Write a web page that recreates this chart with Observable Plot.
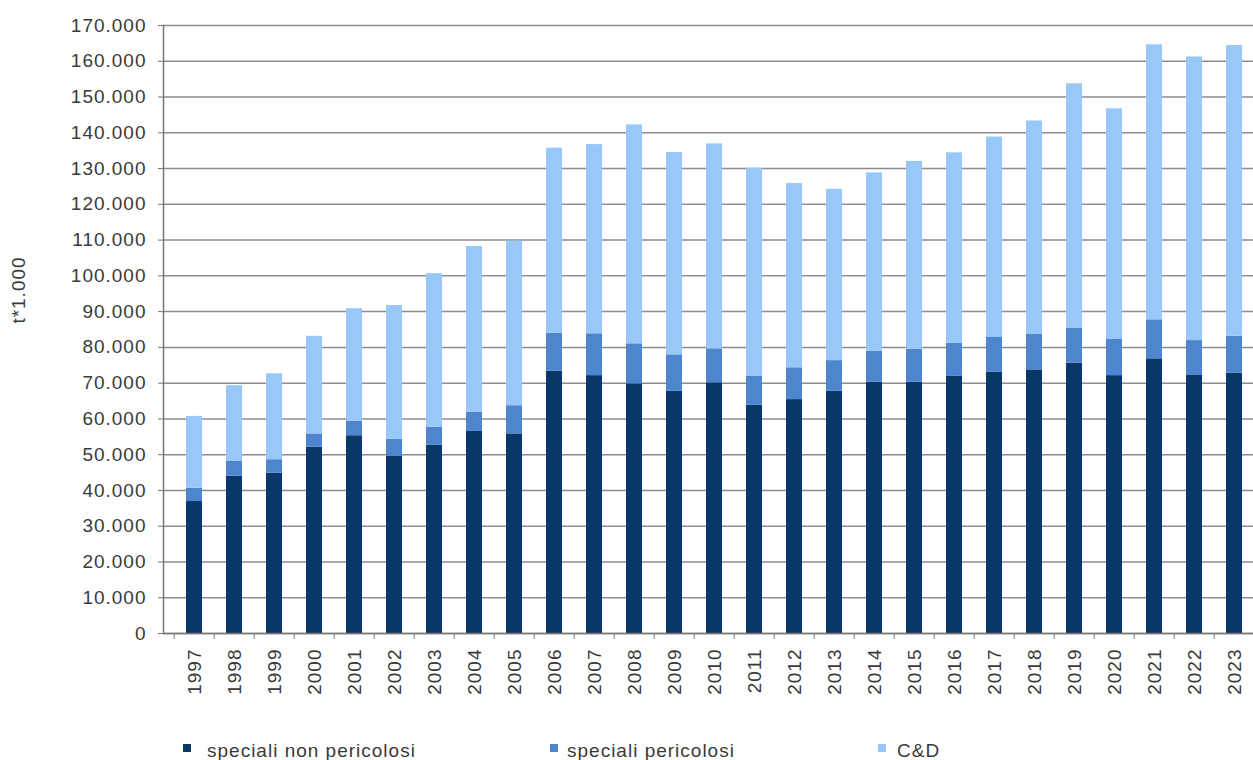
<!DOCTYPE html>
<html>
<head>
<meta charset="utf-8">
<script src="https://cdn.jsdelivr.net/npm/d3@7"></script>
<script src="https://cdn.jsdelivr.net/npm/@observablehq/plot@0.6"></script>
<style>
  html, body { margin: 0; padding: 0; background: #fff; overflow: hidden; }
  #wrap { position: relative; width: 1253px; height: 760px; font-family: "Liberation Sans", Arial, sans-serif; color: #3a3a3a; }
  #chart svg text { letter-spacing: 1px; }
  .ytitle { position: absolute; left: 18px; top: 290px; transform: translate(-50%, -50%) rotate(-90deg); font-size: 19px; letter-spacing: 1px; white-space: nowrap; line-height: 1; }
  .sw { position: absolute; width: 8px; height: 8px; top: 744px; }
  .lt { position: absolute; top: 741px; font-size: 19px; line-height: 1; letter-spacing: 1px; white-space: nowrap; }
</style>
</head>
<body>
<div id="wrap">
  <div id="chart"></div>
  <div class="ytitle">t*1.000</div>
  <div id="legend"></div>
</div>
<script>
const years = ["1997","1998","1999","2000","2001","2002","2003","2004","2005","2006","2007","2008","2009","2010","2011","2012","2013","2014","2015","2016","2017","2018","2019","2020","2021","2022","2023"];
const seriesNames = ["speciali non pericolosi", "speciali pericolosi", "C&D"];
const specialiNonPericolosi = [36900,44000,44800,52100,55300,49500,52600,56500,55800,73300,72100,69800,67700,70100,63800,65400,67800,70300,70300,72000,73100,73700,75600,72100,76800,72300,72800];
const specialiPericolosi = [3700,4100,3800,3700,4000,4800,5100,5400,7900,10700,11700,11200,10200,9500,8200,8900,8500,8600,9100,9200,9800,9900,9800,10100,10900,9600,10300];
const cd = [20100,21200,24000,27300,31500,37400,42900,46300,46000,51700,52900,61200,56600,57300,58100,51500,47900,49900,52600,53200,55900,59700,68300,64500,76900,79300,81300];
const yTicks = [0,10000,20000,30000,40000,50000,60000,70000,80000,90000,100000,110000,120000,130000,140000,150000,160000,170000];
const colors = ["#0b3768", "#4d86cf", "#97c8f8"];

const data = [];
years.forEach((y, i) => {
  data.push({year: y, series: seriesNames[0], value: specialiNonPericolosi[i]});
  data.push({year: y, series: seriesNames[1], value: specialiPericolosi[i]});
  data.push({year: y, series: seriesNames[2], value: cd[i]});
});

const fmt = d => d3.format(",")(d).replace(/,/g, ".");
const xRange = [165, 1263];
const step = (xRange[1] - xRange[0]) / years.length;

const chart = Plot.plot({
  width: 1253,
  height: 700,
  marginTop: 25,
  marginBottom: 67,
  marginLeft: 163,
  marginRight: 0,
  style: {fontFamily: "Liberation Sans, Arial, sans-serif", fontSize: "19px", color: "#3a3a3a", background: "#fff"},
  x: {domain: years, range: xRange, paddingInner: 0.6, paddingOuter: 0.3},
  y: {domain: [0, 170000]},
  color: {domain: seriesNames, range: colors},
  marks: [
    Plot.gridY(yTicks, {stroke: "#8c8c8c", strokeOpacity: 1, strokeWidth: 1.5}),
    Plot.barY(data, {x: "year", y: "value", fill: "series", order: seriesNames}),
    Plot.frame({anchor: "left", stroke: "#777", strokeWidth: 1.5}),
    Plot.ruleY([0], {stroke: "#777", strokeWidth: 1.5}),
    Plot.axisY({ticks: yTicks, tickSize: 5, tickPadding: 12, tickFormat: fmt, label: null, stroke: "#777"}),
    Plot.axisX({tickSize: 6, tickFormat: () => "", dx: -step / 2, label: null, stroke: "#777"}),
    Plot.axisX({tickSize: 0, tickPadding: 15, tickRotate: -90, label: null})
  ]
});
document.getElementById("chart").appendChild(chart);

const legendPos = [[183, 207], [550, 567], [878, 897]];
const legend = document.getElementById("legend");
seriesNames.forEach((name, i) => {
  const sw = document.createElement("div");
  sw.className = "sw";
  sw.style.left = legendPos[i][0] + "px";
  sw.style.background = colors[i];
  legend.appendChild(sw);
  const t = document.createElement("div");
  t.className = "lt";
  t.style.left = legendPos[i][1] + "px";
  t.textContent = name;
  legend.appendChild(t);
});
</script>
</body>
</html>
